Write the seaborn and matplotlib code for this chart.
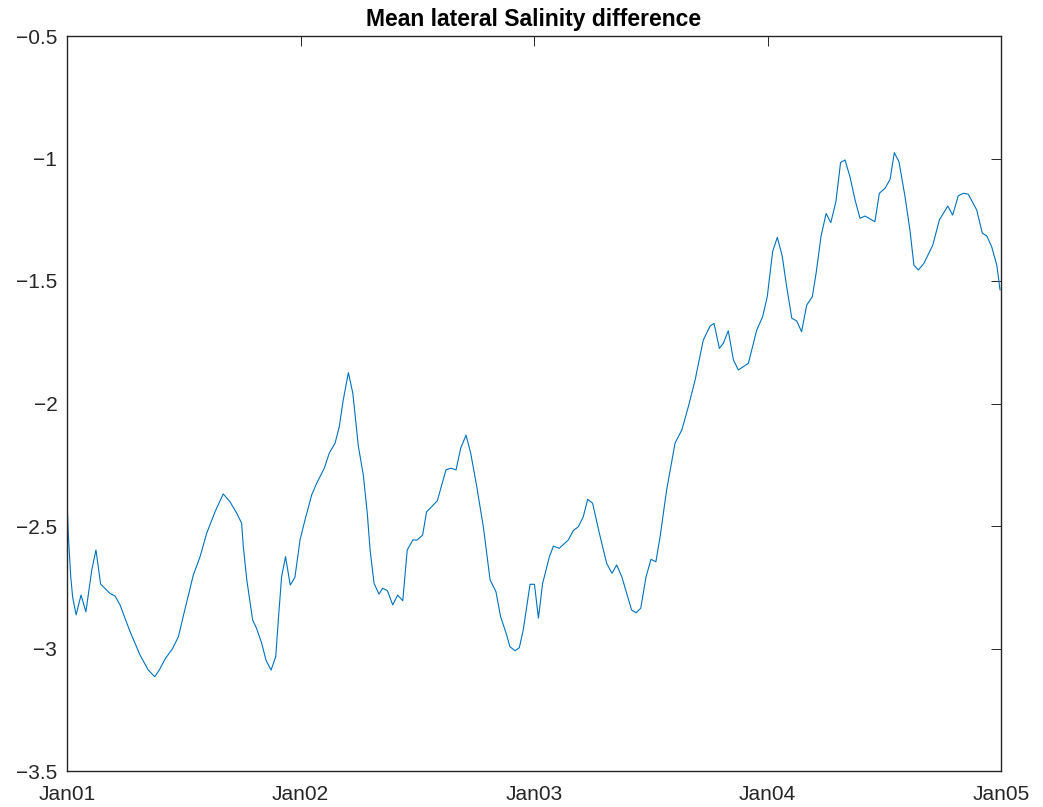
import matplotlib
matplotlib.use("Agg")
import matplotlib.pyplot as plt
import seaborn as sns
import pandas as pd

# time in years since Jan 2001
t_years = [0.001, 0.006, 0.016, 0.024, 0.039, 0.060, 0.081, 0.106, 0.124, 0.144,
           0.184, 0.206, 0.227, 0.270, 0.313, 0.348, 0.376, 0.395, 0.420, 0.453,
           0.477, 0.501, 0.541, 0.570, 0.598, 0.634, 0.669, 0.698, 0.727, 0.748,
           0.755, 0.770, 0.795, 0.812, 0.834, 0.852, 0.874, 0.894, 0.905, 0.919,
           0.936, 0.956, 0.976, 0.998, 1.019, 1.048, 1.069, 1.102, 1.123, 1.148,
           1.166, 1.183, 1.205, 1.224, 1.248, 1.269, 1.286, 1.298, 1.315, 1.336,
           1.352, 1.372, 1.395, 1.416, 1.438, 1.457, 1.481, 1.500, 1.523, 1.540,
           1.562, 1.586, 1.623, 1.643, 1.666, 1.686, 1.709, 1.729, 1.755, 1.783,
           1.812, 1.837, 1.857, 1.883, 1.897, 1.919, 1.937, 1.954, 1.983, 2.002,
           2.019, 2.037, 2.066, 2.083, 2.108, 2.147, 2.168, 2.190, 2.211, 2.230,
           2.251, 2.280, 2.311, 2.334, 2.354, 2.376, 2.397, 2.418, 2.437, 2.457,
           2.480, 2.501, 2.522, 2.540, 2.568, 2.604, 2.633, 2.661, 2.690, 2.725,
           2.754, 2.771, 2.794, 2.811, 2.832, 2.854, 2.875, 2.918, 2.954, 2.979,
           2.999, 3.022, 3.042, 3.063, 3.082, 3.104, 3.125, 3.146, 3.168, 3.192,
           3.208, 3.229, 3.251, 3.271, 3.293, 3.313, 3.332, 3.353, 3.375, 3.396,
           3.418, 3.460, 3.479, 3.503, 3.525, 3.543, 3.563, 3.589, 3.610, 3.627,
           3.646, 3.670, 3.708, 3.736, 3.753, 3.772, 3.793, 3.817, 3.839, 3.860,
           3.896, 3.920, 3.939, 3.960, 3.982, 3.996]

salinity_diff = [-2.421, -2.544, -2.707, -2.789, -2.863, -2.782, -2.850, -2.680, -2.598, -2.737,
                 -2.775, -2.786, -2.822, -2.931, -3.027, -3.088, -3.115, -3.088, -3.043, -2.999,
                 -2.952, -2.856, -2.700, -2.625, -2.530, -2.442, -2.369, -2.401, -2.448, -2.489,
                 -2.584, -2.720, -2.884, -2.918, -2.979, -3.047, -3.088, -3.033, -2.884, -2.707,
                 -2.625, -2.741, -2.710, -2.557, -2.476, -2.373, -2.326, -2.264, -2.203, -2.162,
                 -2.095, -1.986, -1.874, -1.958, -2.176, -2.292, -2.448, -2.598, -2.734, -2.778,
                 -2.754, -2.764, -2.822, -2.782, -2.805, -2.598, -2.557, -2.557, -2.537, -2.442,
                 -2.421, -2.397, -2.271, -2.264, -2.271, -2.183, -2.129, -2.203, -2.340, -2.503,
                 -2.720, -2.768, -2.870, -2.945, -2.993, -3.009, -2.997, -2.924, -2.738, -2.738,
                 -2.876, -2.734, -2.625, -2.582, -2.591, -2.557, -2.519, -2.503, -2.462, -2.391,
                 -2.407, -2.530, -2.652, -2.693, -2.659, -2.707, -2.775, -2.843, -2.854, -2.836,
                 -2.707, -2.636, -2.646, -2.544, -2.353, -2.162, -2.108, -2.013, -1.904, -1.741,
                 -1.684, -1.673, -1.775, -1.754, -1.703, -1.822, -1.863, -1.836, -1.700, -1.646,
                 -1.564, -1.380, -1.322, -1.398, -1.523, -1.652, -1.663, -1.707, -1.598, -1.564,
                 -1.469, -1.319, -1.224, -1.262, -1.176, -1.016, -1.006, -1.074, -1.169, -1.244,
                 -1.235, -1.258, -1.142, -1.122, -1.085, -0.976, -1.013, -1.156, -1.292, -1.435,
                 -1.455, -1.428, -1.353, -1.251, -1.224, -1.194, -1.231, -1.152, -1.142, -1.146,
                 -1.210, -1.305, -1.316, -1.360, -1.435, -1.537]

x_tick_pos = [0, 1, 2, 3, 4]
x_tick_labels = ["Jan01", "Jan02", "Jan03", "Jan04", "Jan05"]
y_tick_pos = [-3.5, -3.0, -2.5, -2.0, -1.5, -1.0, -0.5]
y_tick_labels = ["\u22123.5", "\u22123", "\u22122.5", "\u22122", "\u22121.5", "\u22121", "\u22120.5"]
title = "Mean lateral Salinity difference"

sns.set_style("white")
plt.rcParams["font.family"] = ["Liberation Sans", "DejaVu Sans"]

df = pd.DataFrame({"t": t_years, "s": salinity_diff})

fig = plt.figure(figsize=(10.43, 8.07), dpi=100)
ax = fig.add_axes([67 / 1043, 36 / 807, (1001 - 67) / 1043, (771 - 36) / 807])

sns.lineplot(data=df, x="t", y="s", ax=ax, color="#0072BD", linewidth=0.8,
             estimator=None, sort=False)

ax.set_xlim(0, 4)
ax.set_ylim(-3.5, -0.5)
ax.set_xticks(x_tick_pos)
ax.set_xticklabels(x_tick_labels)
ax.set_yticks(y_tick_pos)
ax.set_yticklabels(y_tick_labels)
ax.set_xlabel("")
ax.set_ylabel("")
ax.set_title(title, fontsize=16.5, fontweight="bold", color="black", pad=7)

axis_col = "#262626"
for sp in ax.spines.values():
    sp.set_visible(True)
    sp.set_color(axis_col)
    sp.set_linewidth(1.0)
ax.tick_params(axis="both", which="both", direction="in", length=7, width=0.7,
               colors=axis_col, labelsize=15, top=True, right=True,
               labeltop=False, labelright=False)
ax.tick_params(axis="y", pad=7)
ax.tick_params(axis="x", pad=10)

fig.savefig("out.png", dpi=100)
